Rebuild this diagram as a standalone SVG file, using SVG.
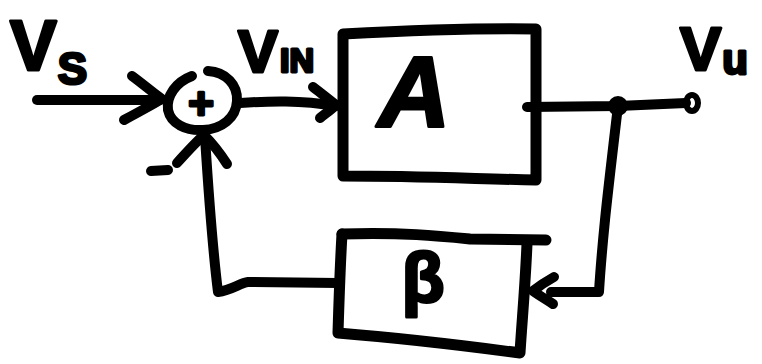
<svg xmlns="http://www.w3.org/2000/svg" width="762" height="364" viewBox="0 0 762 364">
  <style>
    .ink { fill: none; stroke: #000; stroke-width: 10; stroke-linecap: round; stroke-linejoin: round; }
    .box { fill: none; stroke: #000; stroke-width: 11; stroke-linecap: round; stroke-linejoin: round; }
    .lbl { font-family: "Liberation Sans", Arial, sans-serif; font-weight: bold; fill: #000; stroke: #000; stroke-width: 3; stroke-linejoin: round; }
  </style>
  <rect width="762" height="364" fill="#fff"/>

  <!-- signal labels -->
  <g id="label-vs">
    <text class="lbl" x="10" y="70" font-size="70">V<tspan font-size="44" dx="1" dy="14">S</tspan></text>
  </g>
  <g id="label-vin">
    <text class="lbl" x="238" y="72" font-size="60">V<tspan font-size="34" dx="2">IN</tspan></text>
  </g>
  <g id="label-vu">
    <text class="lbl" x="680" y="70" font-size="62">V<tspan font-size="42" dx="1" dy="4">u</tspan></text>
  </g>

  <!-- summing junction -->
  <g id="summer">
    <path class="ink" d="M192,76 C176,82 166,96 168,110 C171,124 186,131 203,130 C222,129 236,118 237,101 C238,85 226,72 208,71"/>
    <text class="lbl" x="201" y="119" font-size="44" text-anchor="middle">+</text>
    <path class="ink" d="M151,171 L168,170" stroke-width="11"/>
  </g>

  <!-- forward gain block -->
  <g id="block-a">
    <path class="box" d="M343,34 C400,31 470,28 536,29 L536,180 C480,179 420,176 343,176 Z"/>
    <text class="lbl" x="414" y="127" font-size="100" font-style="italic" font-weight="normal" text-anchor="middle" stroke-width="4">A</text>
  </g>

  <!-- feedback block -->
  <g id="block-beta">
    <path class="box" d="M342,234 C400,232 440,236 470,239 L546,240"/>
    <path class="box" d="M527,244 C525,290 522,320 520,353 C460,345 400,338 338,333 C339,300 340,268 342,234"/>
    <text class="lbl" x="423" y="302" font-size="70" text-anchor="middle" stroke-width="2">β</text>
  </g>

  <!-- output node and terminal -->
  <g id="junction">
    <circle cx="618" cy="106" r="10" fill="#000"/>
  </g>
  <g id="terminal">
    <ellipse cx="692" cy="103" rx="6" ry="8" fill="#fff" stroke="#000" stroke-width="6"/>
  </g>

  <!-- connectors -->
  <g id="connectors">
    <!-- source into summer -->
    <path class="ink" d="M37,100 L160,100"/>
    <path class="ink" d="M132,76 C143,84 152,92 162,99 C150,106 137,113 124,120"/>
    <!-- summer into A -->
    <path class="ink" d="M240,103 C270,101 300,100 336,106"/>
    <path class="ink" d="M313,87 C321,93 328,99 336,105 C331,110 325,114 320,118"/>
    <!-- A to output -->
    <path class="ink" d="M527,107 L618,106 L686,103"/>
    <!-- output back down into beta -->
    <path class="ink" d="M618,106 C614,140 608,190 605,220 C602,250 600,275 599,292 L551,292"/>
    <path class="ink" d="M554,277 C545,282 538,287 533,291 C540,296 547,300 553,304"/>
    <!-- beta back up into summer -->
    <path class="ink" d="M338,283 L248,282 C240,283 232,290 218,292 C214,260 209,200 205,137"/>
    <path class="ink" d="M177,163 C186,153 195,143 204,135 C212,143 220,153 227,164"/>
  </g>
</svg>
